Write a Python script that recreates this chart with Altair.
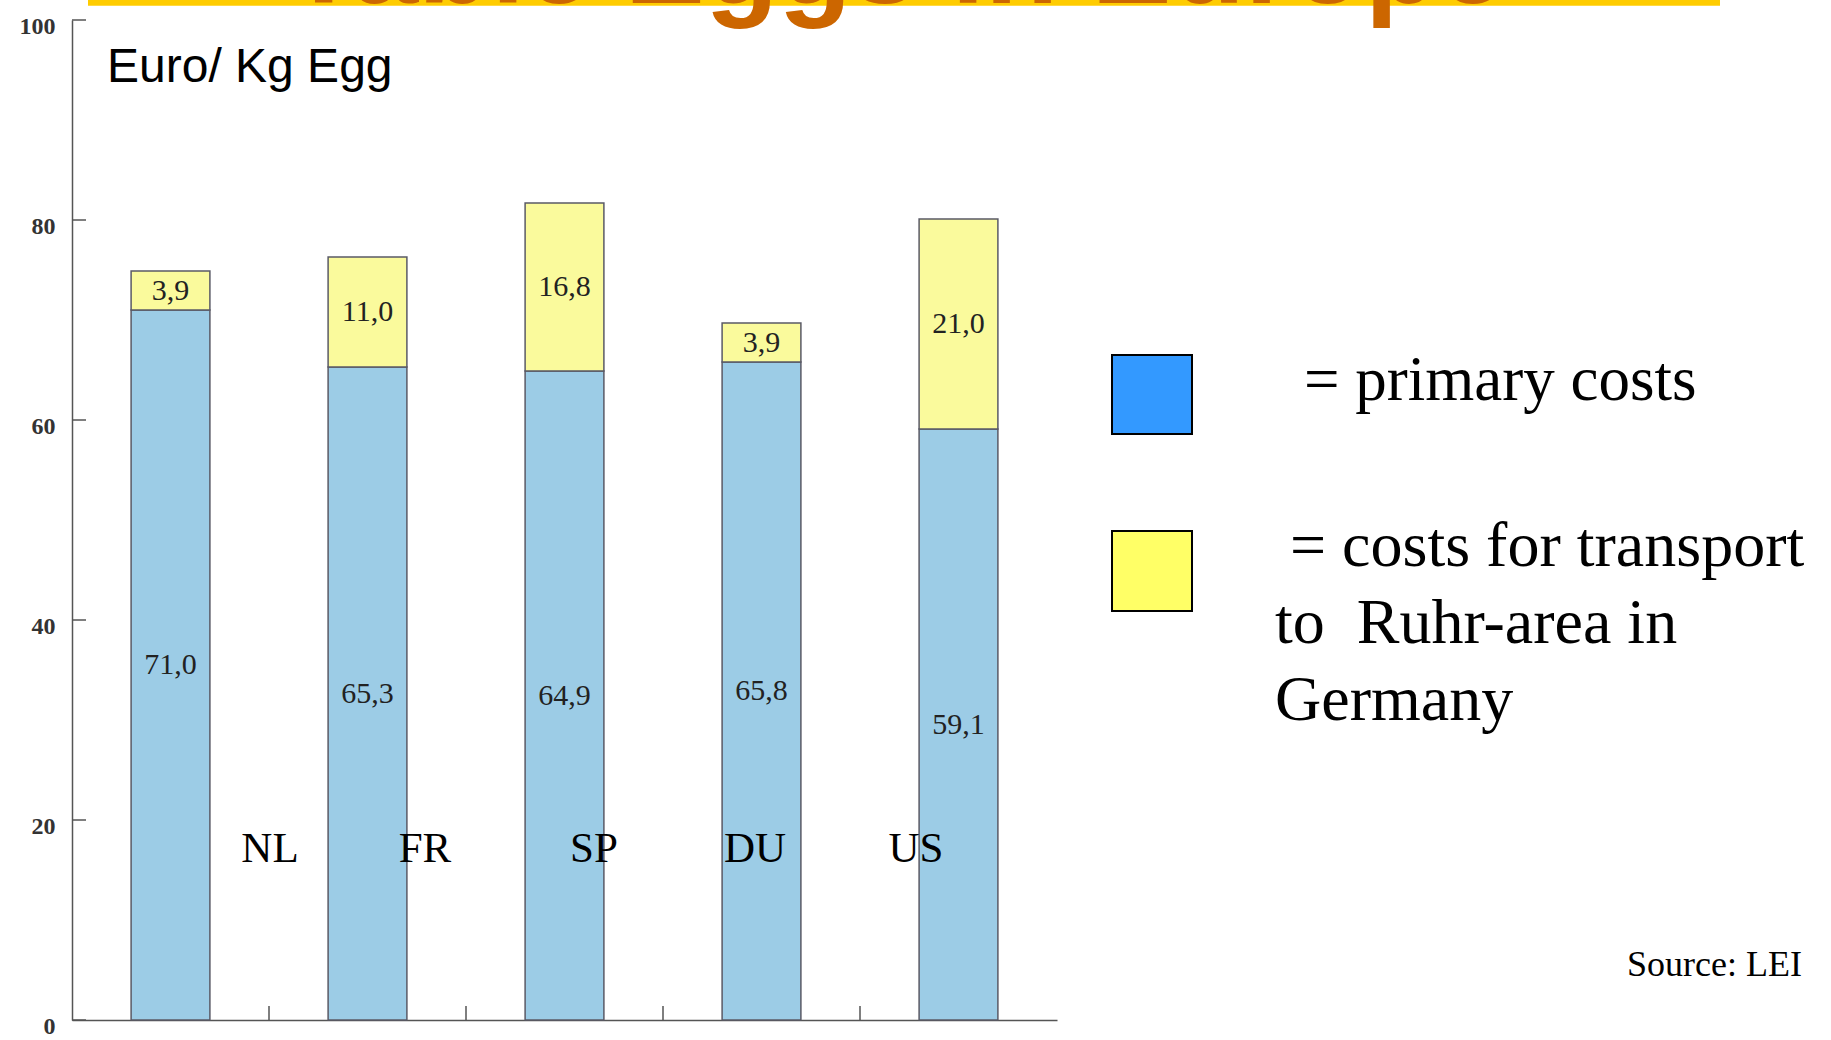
import altair as alt
import pandas as pd

# ---------------- data ----------------
countries = ["NL", "FR", "SP", "DU", "US"]
primary = [71.0, 65.3, 64.9, 65.8, 59.1]
transport = [3.9, 11.0, 16.8, 3.9, 21.0]
series_names = ["primary costs", "costs for transport"]
y_ticks = [0, 20, 40, 60, 80, 100]

title_text = "Table Eggs in Europe"
unit_text = "Euro/ Kg Egg"
legend_lines_1 = ["= primary costs"]
legend_lines_2 = ["= costs for transport", "to\u00a0 Ruhr-area in", "Germany"]
source_text = "Source: LEI"

# ---------------- table ----------------
rows = []
for c, p, t in zip(countries, primary, transport):
    rows.append({"country": c, "series": series_names[0], "start": 0.0, "end": p,
                 "mid": p / 2, "label": f"{p:.1f}".replace(".", ",")})
    rows.append({"country": c, "series": series_names[1], "start": p, "end": p + t,
                 "mid": p + t / 2, "label": f"{t:.1f}".replace(".", ",")})
df = pd.DataFrame(rows)

# ---------------- layout / style ----------------
W, H = 985, 1000
BLUE_BAR = "#9ccce6"
YELLOW_BAR = "#fafa9c"
AXIS_COL = "#555555"
SERIF = "Liberation Serif"
SANS = "Liberation Sans"

xscale = alt.Scale(domain=countries, paddingInner=0.6, paddingOuter=0.3)
yscale = alt.Scale(domain=[0, 100], nice=False)

x_enc = alt.X("country:N", scale=xscale,
              axis=alt.Axis(labels=False, ticks=False, title=None,
                            domainColor=AXIS_COL, domainWidth=1.5))

bars = alt.Chart(df).mark_bar(stroke="#5a5a66", strokeWidth=1.5).encode(
    x=x_enc,
    y=alt.Y("start:Q", scale=yscale,
            axis=alt.Axis(values=y_ticks, ticks=False, title=None, grid=False,
                          labelFont=SERIF, labelFontSize=24, labelFontWeight="bold",
                          labelColor="#333333", labelPadding=17, labelOffset=6,
                          domainColor=AXIS_COL, domainWidth=1.5)),
    y2="end:Q",
    color=alt.Color("series:N", scale=alt.Scale(domain=series_names,
                                                range=[BLUE_BAR, YELLOW_BAR]),
                    legend=None),
)

value_labels = alt.Chart(df).mark_text(font=SERIF, fontSize=30, color="#222222",
                                       baseline="middle", align="center").encode(
    x=alt.X("country:N", scale=xscale),
    y=alt.Y("mid:Q", scale=yscale),
    text="label:N",
)

ytick_rules = alt.Chart(pd.DataFrame({"v": y_ticks})).mark_rule(
    color=AXIS_COL, strokeWidth=1.5).encode(
    y=alt.Y("v:Q", scale=yscale), x=alt.value(0), x2=alt.value(14))

main = alt.layer(bars, value_labels, ytick_rules)

# boundary ticks between bars, on a band scale without padding
xtick_rules = alt.Chart(pd.DataFrame({"country": countries[1:]})).mark_rule(
    color=AXIS_COL, strokeWidth=1.5).encode(
    x=alt.X("country:N", scale=alt.Scale(domain=countries, paddingInner=0,
                                         paddingOuter=0),
            bandPosition=0, axis=None),
    y=alt.value(H), y2=alt.value(H - 14))

one = pd.DataFrame({"k": [0]})


def txt(s, x, y, size, font=SERIF, weight="normal", color="black", align="left"):
    return alt.Chart(one).mark_text(font=font, fontSize=size, fontWeight=weight,
                                    color=color, align=align,
                                    baseline="alphabetic").encode(
        x=alt.value(x), y=alt.value(y), text=alt.value(s))


def box(x, y, x2, y2, fill, stroke=None, sw=0):
    kw = {"fill": fill}
    if stroke:
        kw.update(stroke=stroke, strokeWidth=sw)
    return alt.Chart(one).mark_rect(**kw).encode(
        x=alt.value(x), x2=alt.value(x2), y=alt.value(y), y2=alt.value(y2))


annots = []
# clipped slide title at the very top
annots.append(box(16, -20, 1648, -14.3, "#ffcc00"))
annots.append(txt(title_text, 215, -17, 120, font=SANS, weight="bold", color="#cc6600"))
# unit
annots.append(txt(unit_text, 35, 62, 48, font=SANS))
# country labels
for name, cx in zip(countries, [198, 353, 522, 683, 844]):
    annots.append(txt(name, cx, 842, 43, align="center"))
# legend
annots.append(box(1040, 335, 1120, 414, "#3399ff", "black", 2))
annots.append(box(1040, 511, 1120, 591, "#ffff66", "black", 2))
annots.append(txt(legend_lines_1[0], 1232, 380, 63))
annots.append(txt(legend_lines_2[0], 1218, 546, 64))
annots.append(txt(legend_lines_2[1], 1203, 623, 64))
annots.append(txt(legend_lines_2[2], 1203, 700, 64))
# source
annots.append(txt(source_text, 1555, 956, 36))

chart = alt.layer(main, xtick_rules, *annots).resolve_scale(x="independent").properties(
    width=W, height=H,
    autosize=alt.AutoSizeParams(type="none"),
    padding={"left": 72, "top": 20, "right": 774, "bottom": 20},
    background="white",
).configure_view(strokeWidth=0)

chart.save("out.html", embed_options={"renderer": "svg", "actions": False})
